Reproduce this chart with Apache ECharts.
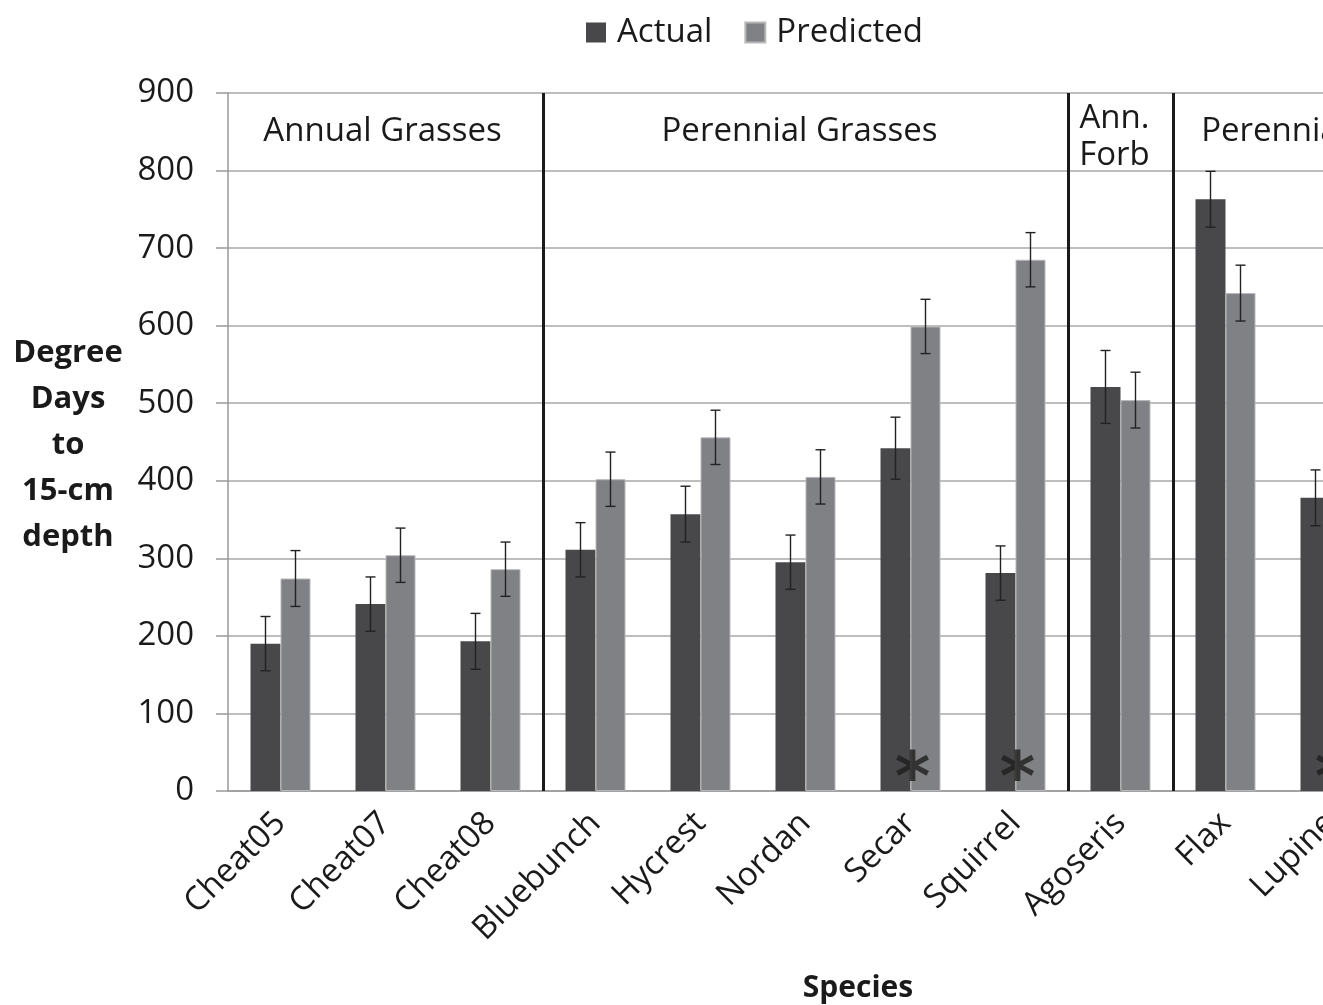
<!DOCTYPE html>
<html>
<head>
<meta charset="utf-8">
<script src="https://cdn.jsdelivr.net/npm/echarts@6/dist/echarts.min.js"></script>
<style>
  html, body { margin: 0; padding: 0; background: #fff; overflow: hidden; }
  #main { width: 1323px; height: 1005px; }
</style>
</head>
<body>
<div id="main"></div>
<script>
// Species on the x axis (a twelfth slot continues past the right edge)
const species = ['Cheat05', 'Cheat07', 'Cheat08', 'Bluebunch', 'Hycrest', 'Nordan',
                 'Secar', 'Squirrel', 'Agoseris', 'Flax', 'Lupine'];
// Degree days to 15-cm depth
const actual       = [190, 241, 193, 311, 357, 295, 442, 281, 521, 763, 378];
const actualErr    = [35, 35, 36, 35, 36, 35, 40, 35, 47, 36, 36];
const predicted    = [274, 304, 286, 402, 456, 405, 599, 685, 504, 642, null];
const predictedErr = [36, 35, 35, 35, 35, 35, 35, 35, 36, 36, null];
// Species flagged with an asterisk
const flagged = ['Secar', 'Squirrel', 'Lupine'];
// Functional groups, as category-slot ranges
const groupNames = ['Annual Grasses', 'Perennial Grasses', 'Ann.\nForb', 'Perennial Forbs'];
const groupFrom  = [0, 3, 8, 9];
const groupTo    = [3, 8, 9, 12];
const yTicks = [0, 100, 200, 300, 400, 500, 600, 700, 800, 900];

const SLOTS = 12;
const BAR_W = 30;
const INK = '#1a1a1a';
const FONT = 'Open Sans';

function errorBars(values, errs, side) {
  const data = [];
  values.forEach((v, i) => { if (v != null) data.push([i, v, errs[i]]); });
  return {
    type: 'custom',
    xAxisIndex: 0,
    yAxisIndex: 0,
    z: 5,
    silent: true,
    data: data,
    encode: { x: 0, y: 1 },
    renderItem: function (params, api) {
      const i = api.value(0), v = api.value(1), e = api.value(2);
      const c = api.coord([i, v]);
      const hi = api.coord([i, v + e]);
      const lo = api.coord([i, v - e]);
      const x = c[0] + side * BAR_W / 2;
      const cap = 5;
      const st = { stroke: '#222', lineWidth: 1.4 };
      return {
        type: 'group',
        children: [
          { type: 'line', shape: { x1: x, y1: hi[1], x2: x, y2: lo[1] }, style: st },
          { type: 'line', shape: { x1: x - cap, y1: hi[1], x2: x + cap, y2: hi[1] }, style: st },
          { type: 'line', shape: { x1: x - cap, y1: lo[1], x2: x + cap, y2: lo[1] }, style: st }
        ]
      };
    }
  };
}

// Placement tweaks for the group headings
const groupLabelDistance = [20, 20, 7, 20];
const groupLabelShift = [-3, -6, -6, -9];

const chart = echarts.init(document.getElementById('main'));
chart.setOption({
  animation: false,
  textStyle: { fontFamily: FONT },
  legend: {
    data: ['Actual', 'Predicted'],
    left: 581,
    top: 11,
    icon: 'rect',
    itemWidth: 20,
    itemHeight: 20,
    itemGap: 32,
    textStyle: { fontSize: 33, color: INK, fontFamily: FONT, padding: [0, 0, 0, 6] }
  },
  grid: { left: 228, top: 93, width: 105 * SLOTS, height: 698, outerBoundsMode: 'none', containLabel: false },
  xAxis: [
    {
      type: 'category',
      data: species,
      max: SLOTS - 1,
      axisLine: { lineStyle: { color: '#999', width: 1.5 } },
      axisTick: { length: 12, lineStyle: { color: '#999', width: 1.5 } },
      axisLabel: { rotate: 45, fontSize: 33, color: INK, margin: 27, interval: 0, fontFamily: FONT },
      name: 'Species',
      nameLocation: 'middle',
      nameGap: 182,
      nameTextStyle: { fontSize: 30, fontWeight: 'bold', color: INK, fontFamily: FONT }
    },
    { type: 'value', min: 0, max: SLOTS, show: false }
  ],
  yAxis: {
    type: 'value',
    min: yTicks[0],
    max: yTicks[yTicks.length - 1],
    interval: 100,
    axisLine: { show: true, lineStyle: { color: '#999', width: 1.5 } },
    axisTick: { show: true, length: 12, lineStyle: { color: '#999', width: 1.5 } },
    axisLabel: { fontSize: 33, color: INK, margin: 34, fontFamily: FONT },
    splitLine: { lineStyle: { color: '#a8a8a8', width: 1.5 } }
  },
  graphic: [{
    type: 'text',
    x: 68,
    y: 445,
    style: {
      text: 'Degree\nDays\nto\n15-cm\ndepth',
      fontSize: 31,
      fontWeight: 'bold',
      fontFamily: FONT,
      lineHeight: 46,
      align: 'center',
      verticalAlign: 'middle',
      fill: INK
    }
  }],
  series: [
    {
      name: 'Actual',
      type: 'bar',
      data: actual,
      barWidth: BAR_W,
      barGap: '0%',
      itemStyle: { color: '#48484a' }
    },
    {
      name: 'Predicted',
      type: 'bar',
      data: predicted,
      barWidth: BAR_W,
      barGap: '0%',
      itemStyle: { color: '#808185', borderColor: '#b8b8ba', borderWidth: 1 }
    },
    errorBars(actual, actualErr, -1),
    errorBars(predicted, predictedErr, 1),
    {
      type: 'scatter',
      data: flagged.map(n => [species.indexOf(n), 0]),
      symbolSize: 1,
      itemStyle: { color: 'rgba(0,0,0,0)' },
      z: 10,
      silent: true,
      label: {
        show: true,
        formatter: '*',
        position: 'inside',
        offset: [2, -9],
        fontSize: 68,
        fontWeight: 'bold',
        fontFamily: 'DejaVu Sans',
        color: '#1e1e1e'
      }
    },
    {
      type: 'line',
      xAxisIndex: 1,
      yAxisIndex: 0,
      data: [],
      silent: true,
      markLine: {
        silent: true,
        symbol: 'none',
        label: { show: false },
        lineStyle: { color: INK, width: 3, type: 'solid' },
        data: groupFrom.slice(1).map(v => ({ xAxis: v }))
      },
      markArea: {
        silent: true,
        itemStyle: { color: 'rgba(0,0,0,0)' },
        data: groupNames.map((name, k) => [
          {
            xAxis: groupFrom[k],
            name: name,
            label: {
              show: true,
              position: 'insideTop',
              distance: groupLabelDistance[k],
              offset: [groupLabelShift[k], 0],
              fontSize: 33,
              lineHeight: 37,
              color: INK,
              fontFamily: FONT
            }
          },
          { xAxis: groupTo[k] }
        ])
      }
    }
  ]
});
</script>
</body>
</html>
